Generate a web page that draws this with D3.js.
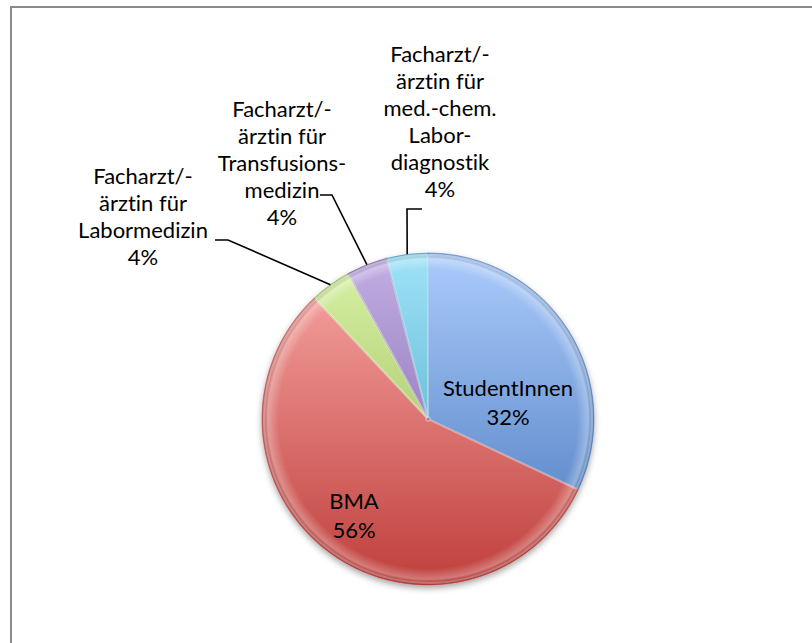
<!DOCTYPE html>
<html>
<head>
<meta charset="utf-8">
<script src="https://cdn.jsdelivr.net/npm/d3@7"></script>
<style>
  html, body { margin: 0; padding: 0; background: #fff; }
  svg { display: block; }
  text { font-family: Lato, "Open Sans", sans-serif; fill: #000; font-variant-ligatures: none; font-feature-settings: "liga" 0; }
</style>
</head>
<body>
<svg id="chart"></svg>
<script>
// values (percent of respondents)
var categories = ["StudentInnen", "BMA", "Facharzt/-ärztin für Labormedizin",
    "Facharzt/-ärztin für Transfusionsmedizin", "Facharzt/-ärztin für med.-chem. Labordiagnostik"]
var shares = [32, 56, 4, 4, 4]
// label text as it is broken in the chart
var labelLines = [
    ["StudentInnen"],
    ["BMA"],
    ["Facharzt/-", "ärztin für", "Labormedizin"],
    ["Facharzt/-", "ärztin für", "Transfusions-", "medizin"],
    ["Facharzt/-", "ärztin für", "med.-chem.", "Labor-", "diagnostik"]
]
var lightColors = ["#abcbfb", "#f9aaa7", "#d9f3a6", "#c2aee4", "#9fe2f7"]
var darkColors = ["#4676bb", "#bf3f3c", "#8fb04c", "#7559a0", "#3aa0bf"]

var width = 812, height = 643
var cx = 428, cy = 419, radius = 166
var lineH = 27

// label anchors: x of centre, baseline of first line; outside labels also get an elbow
var labelPos = [
    { x: 508, y: 396 },
    { x: 354, y: 509 },
    { x: 143, y: 184, elbow: [[215, 240], [228, 240]] },
    { x: 282, y: 117, elbow: [[320, 195], [332, 195]] },
    { x: 440, y: 62, elbow: [[422, 209], [407, 209]] }
]

var svg = d3.select('#chart')
    .attr('width', width)
    .attr('height', height)

var defs = svg.append('defs')

// gradients are in the pie group's own coordinates (centre = 0,0)
categories.forEach(function (c, i) {
    var grad = defs.append('linearGradient')
        .attr('id', 'grad' + i)
        .attr('gradientUnits', 'userSpaceOnUse')
        .attr('x1', 0).attr('x2', 0)
        .attr('y1', -radius).attr('y2', radius)
    grad.append('stop').attr('offset', '0%').attr('stop-color', lightColors[i])
    grad.append('stop').attr('offset', '100%').attr('stop-color', darkColors[i])
})

var rim = defs.append('radialGradient')
    .attr('id', 'rim')
    .attr('gradientUnits', 'userSpaceOnUse')
    .attr('cx', 0).attr('cy', 0).attr('r', radius)
rim.append('stop').attr('offset', '0.90').attr('stop-color', '#fff').attr('stop-opacity', 0)
rim.append('stop').attr('offset', '0.965').attr('stop-color', '#fff').attr('stop-opacity', 0.3)
rim.append('stop').attr('offset', '1').attr('stop-color', '#000').attr('stop-opacity', 0.1)

var shadow = defs.append('filter')
    .attr('id', 'shadow')
    .attr('x', '-10%').attr('y', '-10%').attr('width', '120%').attr('height', '125%')
shadow.append('feDropShadow')
    .attr('dx', 0).attr('dy', 3).attr('stdDeviation', 3)
    .attr('flood-color', '#000').attr('flood-opacity', 0.35)

// frame (only the top and left edges are inside the picture)
svg.append('rect')
    .attr('x', 11).attr('y', 7)
    .attr('width', 900).attr('height', 900)
    .attr('fill', 'none')
    .attr('stroke', '#8a8a8a')
    .attr('stroke-width', 2)

var pie = d3.pie().sort(null).value(function (d) { return d })
var arcs = pie(shares)
var arc = d3.arc().innerRadius(0).outerRadius(radius)

var g = svg.append('g')
    .attr('transform', 'translate(' + cx + ',' + cy + ')')

var slices = g.append('g').attr('filter', 'url(#shadow)')
slices.selectAll('path.slice')
    .data(arcs)
    .enter()
    .append('path')
    .attr('class', 'slice')
    .attr('d', arc)
    .attr('fill', function (d, i) { return 'url(#grad' + i + ')' })
    .attr('stroke', function (d, i) { return darkColors[i] })
    .attr('stroke-opacity', 0.6)
    .attr('stroke-width', 1)

// soft bevel along the rim
g.append('circle')
    .attr('r', radius)
    .attr('fill', 'url(#rim)')

// light edge on the radial sides
g.selectAll('path.edge')
    .data(arcs)
    .enter()
    .append('path')
    .attr('class', 'edge')
    .attr('d', d3.arc().innerRadius(2).outerRadius(radius - 2))
    .attr('fill', 'none')
    .attr('stroke', '#fff')
    .attr('stroke-opacity', 0.25)
    .attr('stroke-width', 2)

// leader lines for the small slices, ending on the rim at the slice middle
var lineGen = d3.line()
var rimArc = d3.arc().innerRadius(radius).outerRadius(radius)
arcs.forEach(function (d, i) {
    var p = labelPos[i]
    if (!p.elbow) return
    var end = rimArc.centroid(d)
    end = [cx + end[0], cy + end[1]]
    svg.append('path')
        .attr('d', lineGen(p.elbow.concat([end])))
        .attr('fill', 'none')
        .attr('stroke', '#000')
        .attr('stroke-width', 1.6)
})

// labels
arcs.forEach(function (d, i) {
    var p = labelPos[i]
    var lines = labelLines[i].concat([shares[i] + '%'])
    var t = svg.append('text')
        .attr('text-anchor', 'middle')
        .attr('font-size', 22)
    lines.forEach(function (l, k) {
        t.append('tspan')
            .attr('x', p.x)
            .attr('y', p.y + k * (i < 2 ? 29 : lineH))
            .text(l)
    })
})
</script>
</body>
</html>
